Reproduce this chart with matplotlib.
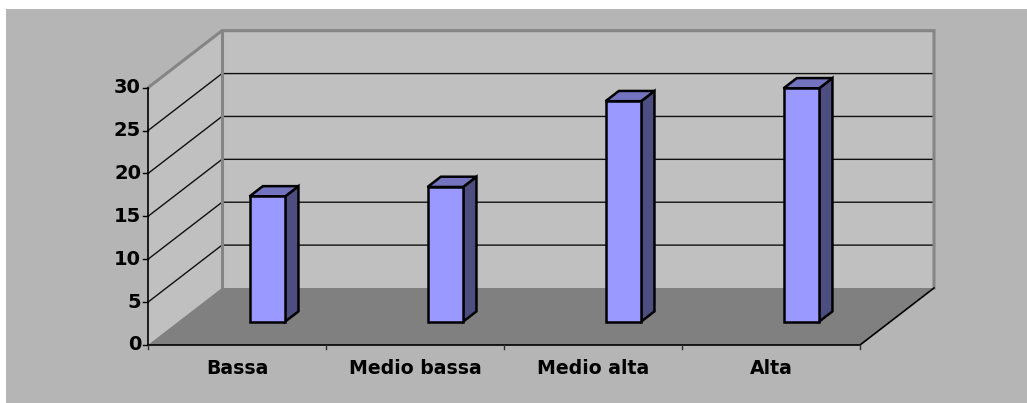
import matplotlib
matplotlib.use("Agg")
import matplotlib.pyplot as plt
from matplotlib.patches import Polygon, Rectangle

# data
categories = ["Bassa", "Medio bassa", "Medio alta", "Alta"]
values = [14.6, 15.7, 25.7, 27.2]
y_ticks = [0, 5, 10, 15, 20, 25, 30]

W, H = 1027, 403
# oblique depth offset (in data units) for depth = 1
DX = 74 / 178
DY = 57 / 8.577

def proj(x, y, d):
    return (x + d * DX, y + d * DY)

def main():
    fig = plt.figure(figsize=(W / 100, H / 100), dpi=100, facecolor="white")
    ax = fig.add_axes([0, 0, 1, 1])
    ax.set_axis_off()
    ax.patch.set_alpha(0)
    # gray chart area
    ax.add_patch(Rectangle((6 / W, 0), 1, 1 - 9 / H, transform=ax.transAxes,
                           facecolor="#b5b5b5", edgecolor="none", zorder=0))
    ppx = 712 / 4       # px per category
    ppy = 8.577         # px per value unit
    ax.set_xlim(-148 / ppx, (W - 148) / ppx)
    ax.set_ylim(-58 / ppy, (H - 58) / ppy)

    n = len(categories)
    ymax = y_ticks[-1]

    # walls and floor
    back = [proj(0, 0, 1), proj(n, 0, 1), proj(n, ymax, 1), proj(0, ymax, 1)]
    left = [proj(0, 0, 0), proj(0, 0, 1), proj(0, ymax, 1), proj(0, ymax, 0)]
    floor = [proj(0, 0, 0), proj(n, 0, 0), proj(n, 0, 1), proj(0, 0, 1)]
    ax.add_patch(Polygon(back, closed=True, facecolor="#c0c0c0", edgecolor="none", zorder=1))
    ax.add_patch(Polygon(left, closed=True, facecolor="#c0c0c0", edgecolor="none", zorder=1))

    # gridlines
    for v in y_ticks[1:-1]:
        x0, y0 = proj(0, v, 0)
        x1, y1 = proj(0, v, 1)
        x2, y2 = proj(n, v, 1)
        ax.plot([x0, x1, x2], [y0, y1, y2], color="#101010", lw=1, zorder=2,
                solid_joinstyle="miter")

    # wall borders
    p = [proj(0, ymax, 0), proj(0, ymax, 1), proj(n, ymax, 1), proj(n, 0, 1)]
    ax.plot([q[0] for q in p], [q[1] for q in p], color="#858585", lw=2.2, zorder=2,
            solid_joinstyle="miter")
    p = [proj(0, ymax, 1), proj(0, 0, 1)]
    ax.plot([q[0] for q in p], [q[1] for q in p], color="#858585", lw=2.2, zorder=2)

    ax.add_patch(Polygon(floor, closed=True, facecolor="#808080", edgecolor="none", zorder=3))
    p = [proj(0, 0, 0), proj(n, 0, 0), proj(n, 0, 1)]
    ax.plot([q[0] for q in p], [q[1] for q in p], color="black", lw=1.2, zorder=4)

    # y axis
    ax.plot([0, 0], [0, ymax], color="black", lw=1.2, zorder=4)
    tick_x = 5 / ppx
    for v in y_ticks:
        ax.plot([-tick_x, 0], [v, v], color="black", lw=1, zorder=4)
        ax.text(-7 / ppx, v, str(v), ha="right", va="center", fontsize=14,
                fontweight="bold", color="black")

    # x ticks and labels
    for i in range(n + 1):
        ax.plot([i, i], [0, -4 / ppy], color="#303030", lw=1, zorder=4)
    for i, c in enumerate(categories):
        ax.text(i + 0.5, -23 / ppy, c, ha="center", va="center", fontsize=13.6,
                fontweight="bold", color="black")

    # bars
    d0, d1 = 0.41, 0.59
    hw = 0.1
    for i, v in enumerate(values):
        xl, xr = i + 0.5 - hw, i + 0.5 + hw
        front = [proj(xl, 0, d0), proj(xr, 0, d0), proj(xr, v, d0), proj(xl, v, d0)]
        side = [proj(xr, 0, d0), proj(xr, 0, d1), proj(xr, v, d1), proj(xr, v, d0)]
        top = [proj(xl, v, d0), proj(xr, v, d0), proj(xr, v, d1), proj(xl, v, d1)]
        kw = dict(closed=True, edgecolor="black", lw=1.8, joinstyle="miter", zorder=5)
        ax.add_patch(Polygon(side, facecolor="#4d4d80", **kw))
        ax.add_patch(Polygon(top, facecolor="#7373bf", **kw))
        ax.add_patch(Polygon(front, facecolor="#9999ff", **kw))

    fig.savefig("out.png", dpi=100, facecolor=fig.get_facecolor())


if __name__ == "__main__":
    main()
